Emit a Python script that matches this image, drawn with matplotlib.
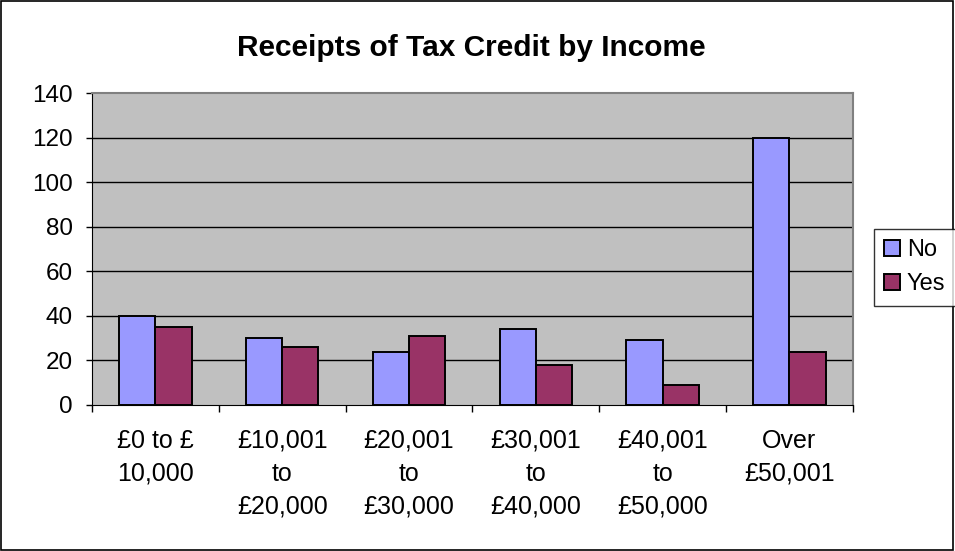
import numpy as np
import matplotlib.pyplot as plt
from matplotlib.patches import Rectangle

plt.rcParams["font.family"] = ["Liberation Sans", "DejaVu Sans"]

categories = [
    "£0 to £\n10,000",
    "£10,001\nto\n£20,000",
    "£20,001\nto\n£30,000",
    "£30,001\nto\n£40,000",
    "£40,001\nto\n£50,000",
    "Over\n£50,001",
]
no_counts = [40, 30, 24, 34, 29, 120]
yes_counts = [35, 26, 31, 18, 9, 24]
y_ticks = [0, 20, 40, 60, 80, 100, 120, 140]


def make_chart():
    fig = plt.figure(figsize=(9.55, 5.51), dpi=100)
    ax = fig.add_axes([0.0963, 0.265, 0.7967, 0.566])

    x = np.arange(len(categories))
    width = 0.286
    ax.bar(x - width / 2, no_counts, width, color="#9999FF",
           edgecolor="black", linewidth=1.4, label="No", zorder=3)
    ax.bar(x + width / 2, yes_counts, width, color="#993366",
           edgecolor="black", linewidth=1.4, label="Yes", zorder=3)

    ax.set_facecolor("#C0C0C0")
    ax.set_xlim(-0.5, len(categories) - 0.5)
    ax.set_ylim(0, 140)
    ax.set_yticks(y_ticks)
    ax.tick_params(axis="y", labelsize=17.5, length=4, width=1,
                   direction="out", pad=10)
    for v in y_ticks[1:-1]:
        ax.axhline(v, color="black", linewidth=1, zorder=1)

    # category labels centred, tick marks on the category boundaries
    ax.set_xticks(x)
    ax.set_xticklabels(categories, fontsize=18, linespacing=1.47)
    ax.tick_params(axis="x", length=0, pad=17)
    ax.set_xticks(np.arange(len(categories) + 1) - 0.5, minor=True)
    ax.tick_params(axis="x", which="minor", length=5, width=1,
                   direction="out")

    for side in ["top", "right"]:
        ax.spines[side].set_color("#808080")
        ax.spines[side].set_linewidth(1.5)
    ax.spines["left"].set_color("black")
    ax.spines["bottom"].set_color("black")

    fig.text(0.494, 0.913, "Receipts of Tax Credit by Income",
             ha="center", va="center", fontsize=21.5, fontweight="bold")

    leg = fig.legend(loc="center left", bbox_to_anchor=(0.915, 0.515),
                     fontsize=17, frameon=True, fancybox=False,
                     edgecolor="black", handlelength=0.65, handleheight=0.65,
                     handletextpad=0.3, borderpad=0.45, labelspacing=0.5,
                     borderaxespad=0)
    leg.get_frame().set_linewidth(1)

    fig.patches.append(Rectangle((0.001, 0.002), 0.997, 0.996,
                                 transform=fig.transFigure, fill=False,
                                 edgecolor="black", linewidth=1.2))

    fig.savefig("out.png", dpi=100)


if __name__ == "__main__":
    make_chart()
